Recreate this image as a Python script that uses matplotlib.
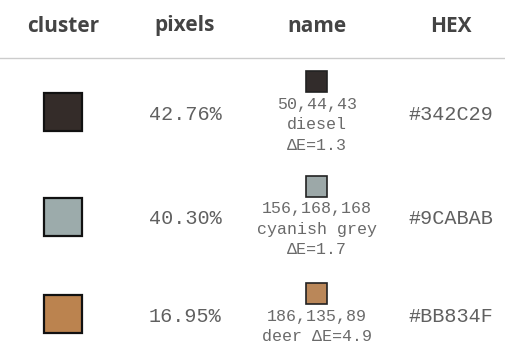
import matplotlib.pyplot as plt
from matplotlib.patches import Rectangle

# dados da tabela
headers = ['cluster', 'pixels', 'name', 'HEX']
cluster_colors = ['#342C29', '#9CABAB', '#BB834F']
pixel_share = [42.76, 40.30, 16.95]
rgb_values = [(50, 44, 43), (156, 168, 168), (186, 135, 89)]
color_names = ['diesel', 'cyanish grey', 'deer']
delta_e = [1.3, 1.7, 4.9]
hex_codes = ['#342C29', '#9CABAB', '#BB834F']

W, H = 506, 351
col_x = [63, 185, 317, 451]
row_y = [112, 217, 314]
mono = ['Liberation Mono', 'DejaVu Sans Mono']

fig = plt.figure(figsize=(W / 100, H / 100), dpi=100)
ax = fig.add_axes([0, 0, 1, 1])
ax.set_xlim(0, W)
ax.set_ylim(H, 0)
ax.axis('off')

# cabeçalho
for x, h in zip(col_x, headers):
    ax.text(x, 26, h, ha='center', va='center', fontsize=15, fontweight='bold',
            family=['Open Sans', 'DejaVu Sans'], color='#444444')
ax.plot([0, W], [58, 58], color='#cccccc', lw=1)

for i, y in enumerate(row_y):
    # quadrado do cluster
    s = 38
    ax.add_patch(Rectangle((col_x[0] - s / 2, y - s / 2), s, s,
                           facecolor=cluster_colors[i], edgecolor='#111111', lw=1.6))
    ax.text(col_x[1], y + 2, f'{pixel_share[i]:.2f}%', ha='center', va='center',
            fontsize=14.5, family=mono, color='#606060')
    ax.text(col_x[3], y + 2, hex_codes[i], ha='center', va='center',
            fontsize=14.5, family=mono, color='#606060')

    # coluna do nome: quadrado pequeno + linhas de texto
    r, g, b = rgb_values[i]
    de = f'\u0394E={delta_e[i]}'
    if len(color_names[i]) <= 4:
        lines = [f'{r},{g},{b}', f'{color_names[i]} {de}']
    else:
        lines = [f'{r},{g},{b}', color_names[i], de]
    sq, gap, step = 21, 12, 20.5
    total = sq + gap + (len(lines) - 1) * step + 8
    top = y - total / 2
    ax.add_patch(Rectangle((col_x[2] - sq / 2, top), sq, sq,
                           facecolor=(r / 255, g / 255, b / 255), edgecolor='#222222', lw=1.2))
    for k, line in enumerate(lines):
        ax.text(col_x[2], top + sq + gap + k * step, line, ha='center', va='center',
                fontsize=12, family=mono, color='#6a6a6a')

fig.savefig('out.png', dpi=100)
